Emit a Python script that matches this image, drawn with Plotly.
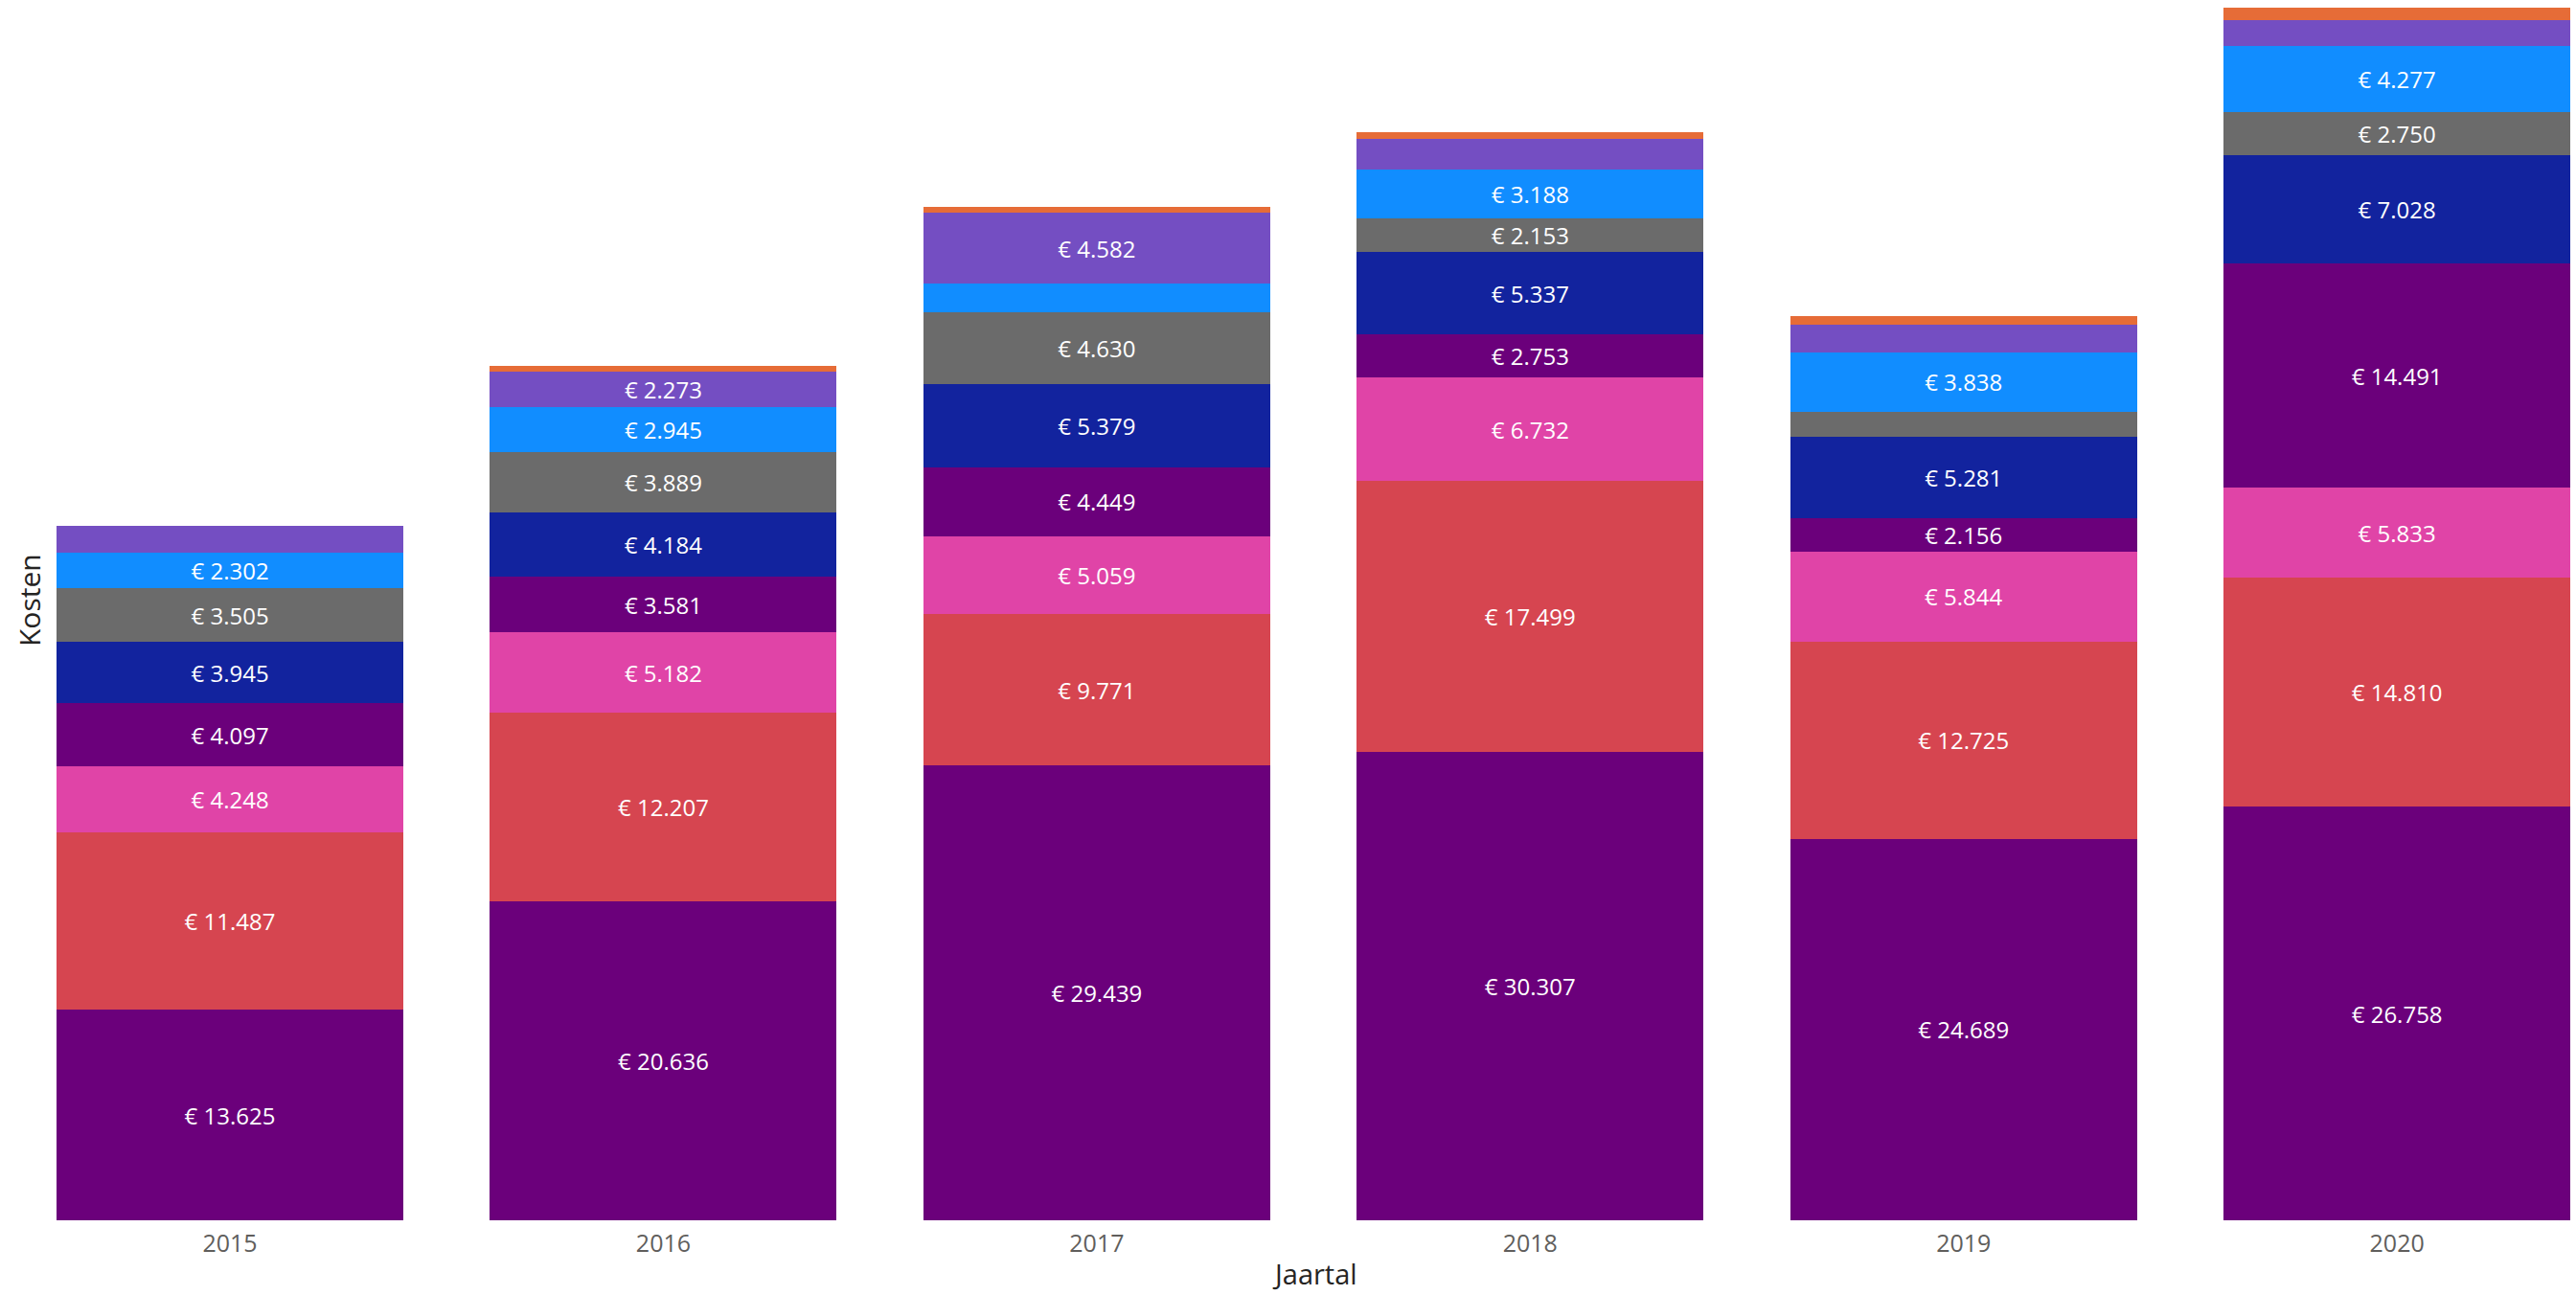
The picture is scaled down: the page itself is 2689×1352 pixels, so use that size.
import plotly.graph_objects as go

years = ["2015", "2016", "2017", "2018", "2019", "2020"]

series_names = ["Kosten 1", "Kosten 2", "Kosten 3", "Kosten 4", "Kosten 5",
                "Kosten 6", "Kosten 7", "Kosten 8", "Kosten 9"]

s1 = [13625, 20636, 29439, 30307, 24689, 26758]
s2 = [11487, 12207, 9771, 17499, 12725, 14810]
s3 = [4248, 5182, 5059, 6732, 5844, 5833]
s4 = [4097, 3581, 4449, 2753, 2156, 14491]
s5 = [3945, 4184, 5379, 5337, 5281, 7028]
s6 = [3505, 3889, 4630, 2153, 1625, 2750]
s7 = [2302, 2945, 1860, 3188, 3838, 4277]
s8 = [1725, 2273, 4582, 2000, 1750, 1670]
s9 = [0, 370, 370, 440, 560, 800]

series_values = [s1, s2, s3, s4, s5, s6, s7, s8, s9]
colors = ["#6B007B", "#D64550", "#E044A7", "#6B007B", "#12239E",
          "#6B6B6B", "#118DFF", "#744EC2", "#E66C37"]

LABEL_MIN = 2100
FONT = "Segoe UI, Open Sans, sans-serif"


def fmt(v):
    return "€ " + f"{v:,}".replace(",", ".")


fig = go.Figure()
for name, vals, col in zip(series_names, series_values, colors):
    fig.add_trace(go.Bar(
        x=years, y=vals, name=name,
        marker=dict(color=col, line=dict(width=0)),
        width=0.8,
        text=[fmt(v) if v >= LABEL_MIN else "" for v in vals],
        textposition="inside",
        insidetextanchor="middle",
        textangle=0,
        textfont=dict(color="white", size=24, family=FONT),
        hoverinfo="skip",
    ))

fig.update_layout(
    barmode="stack",
    width=2689, height=1352,
    margin=dict(l=55, r=0, t=0, b=78),
    paper_bgcolor="white", plot_bgcolor="white",
    showlegend=False,
    uniformtext=dict(minsize=24, mode="show"),
    font=dict(family=FONT),
    xaxis=dict(type="category", range=[-0.409, 5.413], showgrid=False,
               showline=False, zeroline=False, ticks="",
               tickfont=dict(size=25, color="#605E5C", family=FONT),
               ticklabelstandoff=7),
    yaxis=dict(range=[0, 78934], showgrid=False, showline=False,
               zeroline=False, showticklabels=False, ticks=""),
    annotations=[
        dict(text="Kosten", xref="paper", yref="paper",
             x=-0.0091, y=(1274 - 627) / 1274, xanchor="center", yanchor="middle",
             textangle=-90, showarrow=False,
             font=dict(size=30, color="#252423", family=FONT)),
        dict(text="Jaartal", xref="paper", yref="paper",
             x=0.5, y=-(1350 - 1274) / 1274, xanchor="center", yanchor="bottom",
             showarrow=False, borderpad=0,
             font=dict(size=29, color="#252423", family=FONT)),
    ],
)

fig.write_html("out.html",
               config={"displayModeBar": False},
               post_script="document.body.style.margin='0';document.body.style.overflow='hidden';")
